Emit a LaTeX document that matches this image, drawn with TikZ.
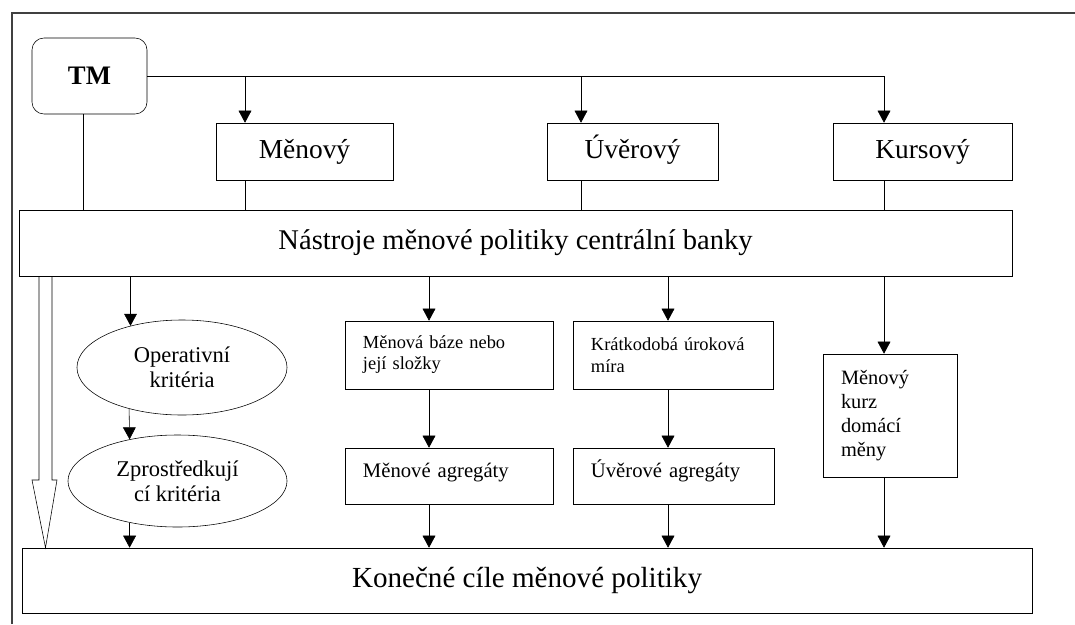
\documentclass[tikz,border=0pt]{standalone}
\usepackage{fontspec}
\setmainfont{Liberation Serif}
\usetikzlibrary{
        arrows.meta,
        positioning,
        shapes.geometric
    }
\tikzset{>={Triangle[length=3mm,width=3.2mm]},line width=1pt}
\tikzset{box/.style={draw,rectangle,inner sep=0pt,align=center,font=\fontsize{19.5}{23}\selectfont}}
\tikzset{topbox/.style={box,minimum height=1.425cm,text height=14pt,text depth=4pt}}
\tikzset{smallbox/.style={draw,rectangle,inner xsep=0.45cm,inner ysep=0pt,align=left}}
\tikzset{aggbox/.style={smallbox,minimum height=1.4cm,text height=9pt,text depth=7pt,font=\fontsize{14.7}{17}\selectfont}}
\tikzset{oval/.style={draw,ellipse,inner sep=0pt,align=center,font=\fontsize{16}{18}\selectfont}}

\begin{document}
\begin{tikzpicture}[x=0.025cm,y=-0.025cm]
                \useasboundingbox (0,0) rectangle (1075,624);
                \draw[line width=0.8pt,black!75] (12,624) -- (12,13) -- (1075,13);
                % top row
                \node[box,rounded corners=0.3cm,minimum width=2.875cm,minimum height=1.9cm,font=\fontsize{19}{23}\selectfont\bfseries] (tm) at (89.5,76) {TM};
                \node[topbox,minimum width=4.425cm] (menovy) at (304.5,151.5) {Měnový};
                \node[topbox,minimum width=4.275cm] (uverovy) at (632.5,151.5) {Úvěrový};
                \node[topbox,minimum width=4.475cm] (kursovy) at (922.5,151.5) {Kursový};
                \node[box,minimum width=24.825cm,minimum height=1.65cm,font=\fontsize{20.3}{24}\selectfont] (nastroje) at (515.5,243) {Nástroje měnové politiky centrální banky};
                % criteria
                \node[oval,minimum width=5.25cm,minimum height=2.375cm] (oper) at (182,367.5) {Operativní\\kritéria};
                \node[oval,minimum width=5.475cm,minimum height=2.3cm] (zpro) at (177.5,481) {Zprostředkují\\cí kritéria};
                \node[smallbox,text width=4.3cm,minimum height=1.7cm,font=\fontsize{13.1}{15}\selectfont] (baze) at (449,355) {Měnová báze nebo\\její složky};
                \node[aggbox,text width=4.3cm] (magr) at (449,476) {Měnové agregáty};
                \node[smallbox,text width=4.1cm,minimum height=1.7cm,font=\fontsize{13.1}{15.4}\selectfont] (kratko) at (673,355) {Krátkodobá úroková\\míra};
                \node[aggbox,text width=4.125cm] (uagr) at (673.5,476) {Úvěrové agregáty};
                \node[smallbox,text width=2.45cm,minimum height=3.075cm,font=\fontsize{14.5}{17}\selectfont] (kurz) at (890,415.5) {Měnový\\kurz\\domácí\\měny};
                \node[box,minimum width=25.25cm,minimum height=1.625cm,font=\fontsize{20.7}{24}\selectfont] (konecne) at (527,580.5) {Konečné cíle měnové politiky};
                % branch points
                \coordinate (b1) at (245,76);
                \coordinate (b2) at (581,76);
                \coordinate (b3) at (884,76);
                \coordinate (t1) at (83,0);
                \coordinate (c1) at (429,0);
                \coordinate (c2) at (668,0);
                \coordinate (h1) at (39,480);
                \coordinate (h2) at (52,480);
                \coordinate (hl) at (32,480);
                \coordinate (hr) at (57,480);
                \coordinate (tip) at (45.5,0);
                \draw (tm.east) -- (b3);
                \path[->]
                    (b1) edge (b1 |- menovy.north)
                    (b2) edge (b2 |- uverovy.north)
                    (b3) edge (b3 |- kursovy.north);
                \draw (tm.south -| t1) -- (nastroje.north -| t1);
                \draw (menovy.south -| b1) -- (nastroje.north -| b1);
                \draw (uverovy.south -| b2) -- (nastroje.north -| b2);
                \draw (kursovy.south -| b3) -- (nastroje.north -| b3);
                \path[->]
                    (nastroje.south -| oper.141.5) edge (oper.141.5)
                    (oper.218.5) edge (zpro.139)
                    (zpro.221) edge (konecne.north -| zpro.221)
                    (nastroje.south -| c1) edge (baze.north -| c1)
                    (baze.south -| c1) edge (magr.north -| c1)
                    (magr.south -| c1) edge (konecne.north -| c1)
                    (nastroje.south -| c2) edge (kratko.north -| c2)
                    (kratko.south -| c2) edge (uagr.north -| c2)
                    (uagr.south -| c2) edge (konecne.north -| c2)
                    (nastroje.south -| b3) edge (kurz.north -| b3)
                    (kurz.south -| b3) edge (konecne.north -| b3);
                % hollow arrow
                \draw[line join=miter] (nastroje.south -| h1) -- (h1) -- (hl) -- (konecne.north -| tip) -- (hr) -- (h2) -- (nastroje.south -| h2);
            \end{tikzpicture}
\end{document}
